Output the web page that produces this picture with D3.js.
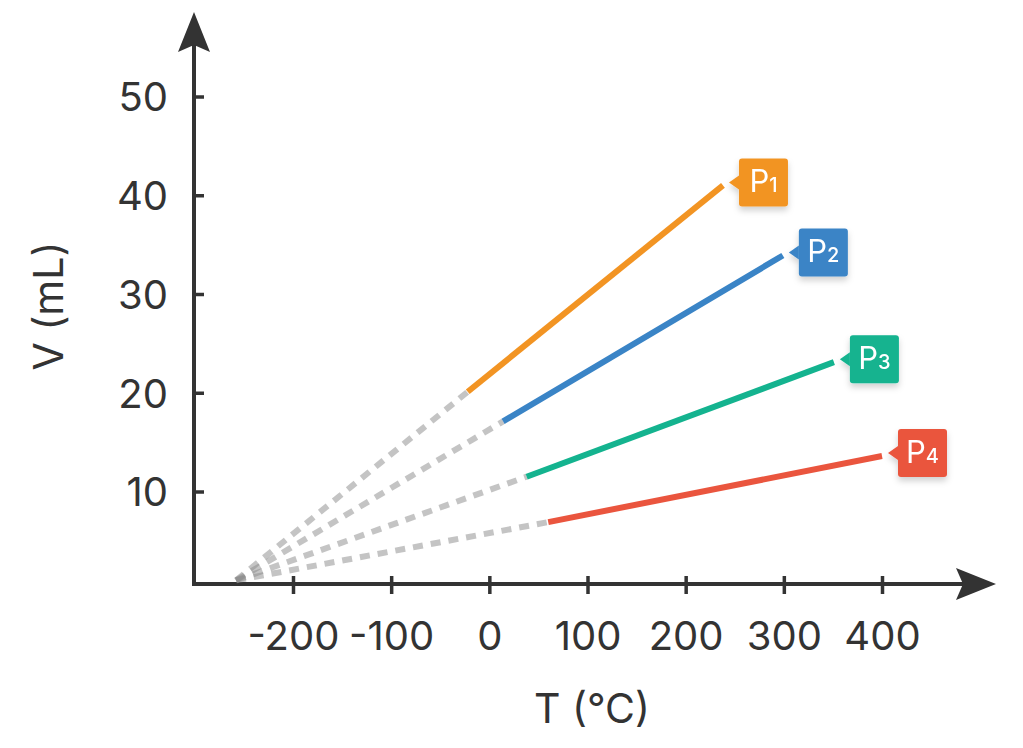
<!DOCTYPE html>
<html>
<head>
<meta charset="utf-8">
<script src="https://cdn.jsdelivr.net/npm/d3@7"></script>
<style>
  body { margin: 0; background: #fff; }
  text { font-family: Inter, "DejaVu Sans", sans-serif; fill: #333; }
</style>
</head>
<body>
<script>
// ---------------------------------------- data ----------------------------------------//
var seriesNames = ["P1", "P2", "P3", "P4"];
var seriesColors = ["#F29423", "#3A84C6", "#14B38F", "#EA553E"];
// measured (solid) part of each line
var tStart = [-22, 14, 38, 60];
var vStart = [20.1, 17.1, 11.5, 6.9];
var tEnd = [238, 299, 351, 400];
var vEnd = [41.0, 33.9, 23.1, 13.6];
// common point where the dashed extrapolations meet
var tMeet = -258, vMeet = 1.0;

var xTicks = [-200, -100, 0, 100, 200, 300, 400];
var yTicks = [10, 20, 30, 40, 50];

var width = 1023, height = 748;

var svg = d3.select("body").append("svg")
  .attr("width", width)
  .attr("height", height);

var defs = svg.append("defs");
var shadow = defs.append("filter").attr("id", "shadow")
  .attr("x", "-30%").attr("y", "-30%").attr("width", "160%").attr("height", "170%");
shadow.append("feDropShadow")
  .attr("dx", 0).attr("dy", 4).attr("stdDeviation", 3)
  .attr("flood-color", "#000").attr("flood-opacity", 0.18);

// ---------------------------------------- scales ----------------------------------------//
var x = d3.scaleLinear().domain([-200, 400]).range([293, 882]);
var y = d3.scaleLinear().domain([10, 50]).range([491.5, 96.5]);

var x0 = 194, y0 = 584;          // where the axes cross
var xTip = 996, yTip = 12;       // arrow tips

var axisColor = "#333";

// ---------------------------------------- axes ----------------------------------------//
var gx = svg.append("g").attr("transform", "translate(0," + y0 + ")")
  .call(d3.axisBottom(x).tickValues(xTicks).tickSize(10).tickFormat(function (d) { return d; }));
gx.select(".domain").remove();
gx.selectAll(".tick line").attr("y1", -8).attr("stroke", axisColor).attr("stroke-width", 3.5);
gx.selectAll(".tick text")
  .attr("y", 66).attr("dy", 0)
  .style("font-size", "40px").style("fill", "#333");

var gy = svg.append("g").attr("transform", "translate(" + x0 + ",0)")
  .call(d3.axisLeft(y).tickValues(yTicks).tickSize(9).tickPadding(17));
gy.select(".domain").remove();
gy.selectAll(".tick line").attr("x2", 10).attr("stroke", axisColor).attr("stroke-width", 3.5);
gy.selectAll(".tick text")
  .attr("dy", "0.36em")
  .style("font-size", "40px").style("fill", "#333");

svg.append("line")
  .attr("x1", x0).attr("x2", xTip - 30).attr("y1", y0).attr("y2", y0)
  .attr("stroke", axisColor).attr("stroke-width", 4);
svg.append("line")
  .attr("x1", x0).attr("x2", x0).attr("y1", y0 + 2).attr("y2", yTip + 30)
  .attr("stroke", axisColor).attr("stroke-width", 4);

// arrow heads
svg.append("path")
  .attr("d", "M" + xTip + "," + y0 + "L" + (xTip - 40) + "," + (y0 - 16) +
    "L" + (xTip - 33) + "," + y0 + "L" + (xTip - 40) + "," + (y0 + 16) + "Z")
  .attr("fill", axisColor);
svg.append("path")
  .attr("d", "M" + x0 + "," + yTip + "L" + (x0 - 16) + "," + (yTip + 40) +
    "L" + x0 + "," + (yTip + 33) + "L" + (x0 + 16) + "," + (yTip + 40) + "Z")
  .attr("fill", axisColor);

// axis titles
svg.append("text")
  .attr("x", 592).attr("y", 723)
  .attr("text-anchor", "middle")
  .style("font-size", "41px")
  .text("T (°C)");

svg.append("text")
  .attr("transform", "translate(63,306) rotate(-90)")
  .attr("text-anchor", "middle")
  .style("font-size", "41px")
  .text("V (mL)");

// ---------------------------------------- lines ----------------------------------------//
var data = seriesNames.map(function (name, i) {
  return {
    name: name,
    color: seriesColors[i],
    t0: tStart[i], v0: vStart[i],
    t1: tEnd[i], v1: vEnd[i]
  };
});

svg.append("g").selectAll("line")
  .data(data)
  .enter()
  .append("line")
  .attr("x1", x(tMeet)).attr("y1", y(vMeet))
  .attr("x2", function (d) { return x(d.t0); })
  .attr("y2", function (d) { return y(d.v0); })
  .attr("stroke", "#8a8a8a")
  .attr("stroke-opacity", 0.5)
  .attr("stroke-width", 6)
  .attr("stroke-dasharray", "10,8");

svg.append("g").selectAll("line")
  .data(data)
  .enter()
  .append("line")
  .attr("x1", function (d) { return x(d.t0); })
  .attr("y1", function (d) { return y(d.v0); })
  .attr("x2", function (d) { return x(d.t1); })
  .attr("y2", function (d) { return y(d.v1); })
  .attr("stroke", function (d) { return d.color; })
  .attr("stroke-width", 6);

// ---------------------------------------- labels ----------------------------------------//
var boxW = 49, boxH = 48;
var label = svg.append("g").selectAll("g")
  .data(data)
  .enter()
  .append("g")
  .attr("transform", function (d) {
    return "translate(" + (x(d.t1) + 16) + "," + (y(d.v1) - 3) + ")";
  })
  .attr("filter", "url(#shadow)");

label.append("path")
  .attr("d", "M-10,0L0,-7L0,7Z")
  .attr("fill", function (d) { return d.color; });

label.append("rect")
  .attr("x", 0).attr("y", -boxH / 2)
  .attr("width", boxW).attr("height", boxH)
  .attr("rx", 3)
  .attr("fill", function (d) { return d.color; });

var lt = label.append("text")
  .attr("x", boxW / 2).attr("y", 10)
  .attr("text-anchor", "middle")
  .style("fill", "#fff")
  .style("font-size", "31px");
lt.append("tspan").style("fill", "#fff").text("P");
lt.append("tspan").style("fill", "#fff").style("font-size", "20px").style("font-weight", 500)
  .text(function (d) { return d.name.slice(1); });
</script>
</body>
</html>
